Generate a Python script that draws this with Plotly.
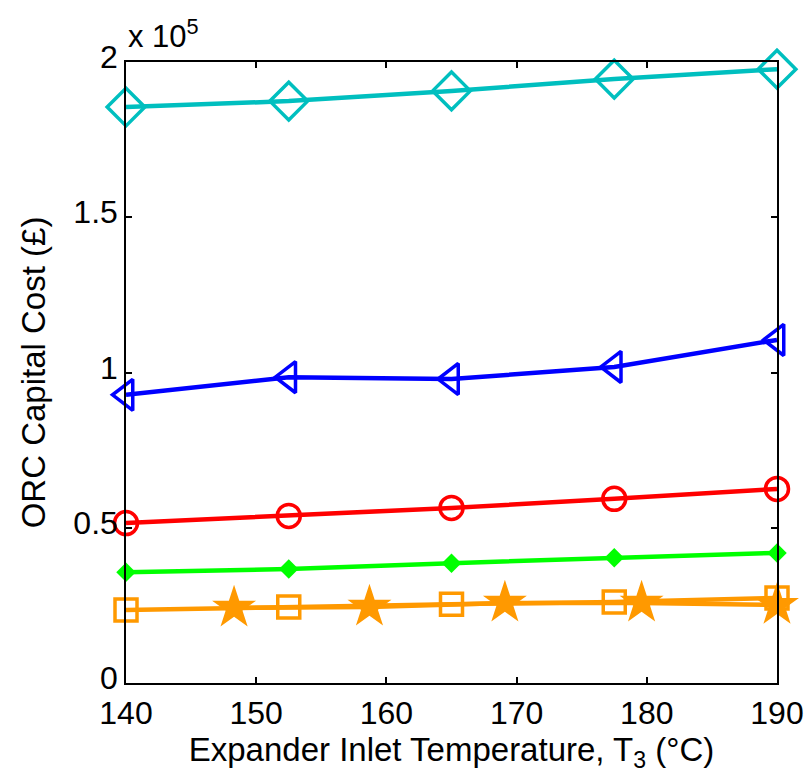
import plotly.graph_objects as go

x_main = [140, 152.5, 165, 177.5, 190]
x_star = [148.3, 158.7, 169.1, 179.6, 190]

cyan_vals = [185500, 187400, 190700, 194500, 197700]
blue_vals = [92800, 98500, 97900, 101800, 110500]
red_vals = [51500, 53800, 56400, 59300, 62500]
green_vals = [35700, 36700, 38600, 40300, 41900]
orange_sq_vals = [23500, 24500, 25400, 26100, 27400]
orange_star_vals = [24200, 24500, 25800, 25800, 25100]

y_ticks = [0, 50000, 100000, 150000, 200000]
y_ticklabels = ["0", "0.5", "1", "1.5", "2"]
x_ticks = [140, 150, 160, 170, 180, 190]

ORANGE = "#FF9900"
series = [
    (x_main, orange_sq_vals, ORANGE, "square-open", 22, 3.5),
    (x_star, orange_star_vals, ORANGE, "star", 33, 0),
    (x_main, green_vals, "#00FF00", "diamond", 15, 0),
    (x_main, red_vals, "#FF0000", "circle-open", 23, 3.5),
    (x_main, blue_vals, "#0000FF", "triangle-left-open", 27, 3.5),
    (x_main, cyan_vals, "#00BFBF", "diamond-open", 29, 3.5),
]

fig = go.Figure()
for xs, ys, col, sym, size, mlw in series:
    fig.add_trace(go.Scatter(
        x=xs, y=ys, mode="lines+markers",
        line=dict(color=col, width=4.5),
        marker=dict(symbol=sym, size=size, color=col,
                    line=dict(color=col, width=mlw)),
        cliponaxis=False, showlegend=False))

font_family = "Liberation Sans, Arial, sans-serif"
fig.update_layout(
    width=807, height=783,
    margin=dict(l=126, r=30, t=62, b=100),
    paper_bgcolor="white", plot_bgcolor="white",
    font=dict(family=font_family, size=32, color="black"),
    xaxis=dict(range=[140, 190], tickvals=x_ticks, ticks="inside", ticklen=6,
               tickwidth=1.5, tickcolor="black", showline=True, linecolor="black",
               linewidth=1.5, mirror="ticks", showgrid=False, zeroline=False,
               automargin=False, tickfont=dict(size=32), ticklabelstandoff=1,
               title=dict(text="Expander Inlet Temperature, T<sub>3</sub> (°C)",
                          font=dict(size=33), standoff=4)),
    yaxis=dict(range=[0, 200000], tickvals=y_ticks, ticktext=y_ticklabels,
               ticks="inside", ticklen=6, tickwidth=1.5, tickcolor="black",
               showline=True, linecolor="black", linewidth=1.5, mirror="ticks",
               showgrid=False, zeroline=False, automargin=False, tickfont=dict(size=32),
               ticklabelshift=-5,
               title=dict(text="ORC Capital Cost (£)", font=dict(size=33), standoff=18)),
    annotations=[dict(text="x 10<sup>5</sup>", xref="paper", yref="paper",
                      x=0, y=1, xanchor="left", yanchor="bottom", yshift=6,
                      showarrow=False, font=dict(size=31))],
)

fig.write_html("out.html")
